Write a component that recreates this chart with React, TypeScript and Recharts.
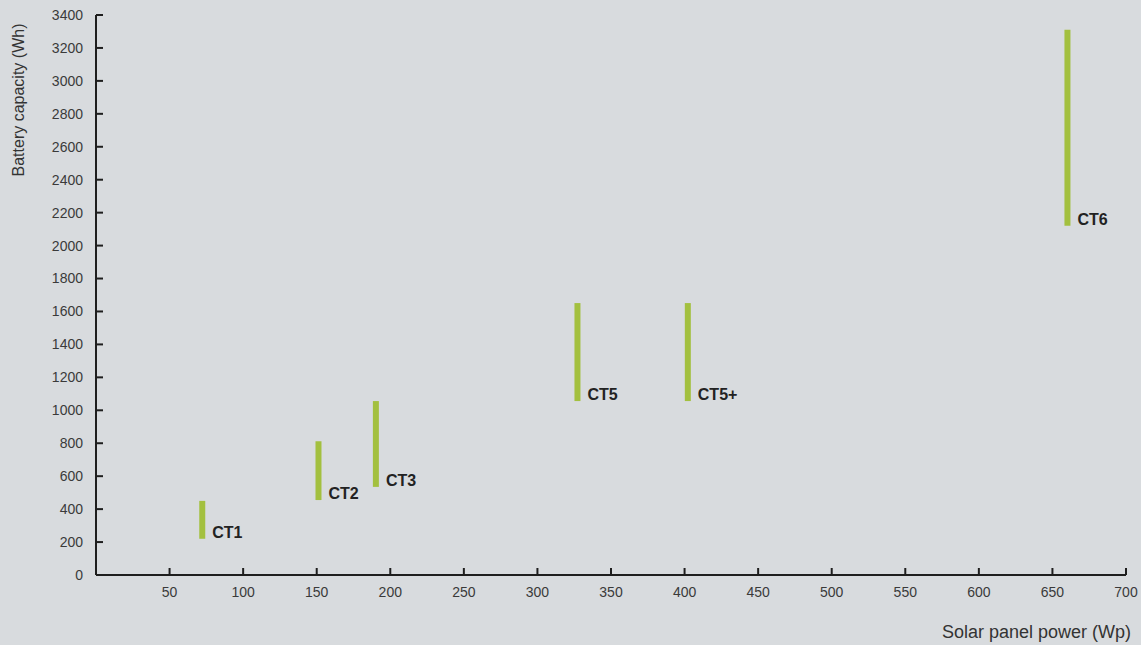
import { ComposedChart, Bar, XAxis, YAxis, LabelList, Label } from 'recharts'

const models = ['CT1', 'CT2', 'CT3', 'CT5', 'CT5+', 'CT6']
const solarPower = [72, 151, 190, 327, 402, 660]
const batteryMin = [220, 455, 535, 1056, 1056, 2120]
const batteryMax = [450, 812, 1056, 1651, 1651, 3310]

const xTicks = [50, 100, 150, 200, 250, 300, 350, 400, 450, 500, 550, 600, 650, 700]
const yTicks = [0, 200, 400, 600, 800, 1000, 1200, 1400, 1600, 1800, 2000, 2200, 2400, 2600, 2800, 3000, 3200, 3400]

const font = '"Liberation Sans", Arial, Helvetica, sans-serif'
const green = '#a3c03f'
const axisColor = '#1e1e1e'

const data = models.map((model, i) => ({
  model,
  power: solarPower[i],
  range: [batteryMin[i], batteryMax[i]],
}))

// model name sits right of the bar, baseline on the bar's bottom
const ModelLabel = (props: any) => {
  const { x, y, width, height, value } = props
  return (
    <text
      x={x + width + 7}
      y={y + height - 1}
      fontSize={16}
      fontWeight="bold"
      fontFamily={font}
      fill="#222"
    >
      {value}
    </text>
  )
}

export default function App() {
  return (
    <div style={{ position: 'absolute', left: 0, top: 0, width: 1141, height: 645, background: '#d8dbde' }}>
      <ComposedChart
        width={1141}
        height={645}
        data={data}
        margin={{ top: 15, right: 15, left: 0, bottom: 0 }}
      >
        <XAxis
          type="number"
          dataKey="power"
          domain={[0, 700]}
          ticks={xTicks}
          height={70}
          tickSize={-7}
          tickMargin={19}
          axisLine={{ stroke: axisColor, strokeWidth: 2 }}
          tickLine={{ stroke: axisColor, strokeWidth: 2 }}
          tick={{ fill: '#3a3a3a', fontSize: 14, fontFamily: font }}
          interval={0}
        >
          <Label
            content={() => (
              <text x={1131} y={638} textAnchor="end" fontSize={18} fontFamily={font} fill="#333">
                Solar panel power (Wp)
              </text>
            )}
          />
        </XAxis>
        <YAxis
          type="number"
          domain={[0, 3400]}
          ticks={yTicks}
          width={96}
          tickSize={-7}
          tickMargin={20}
          axisLine={{ stroke: axisColor, strokeWidth: 2 }}
          tickLine={{ stroke: axisColor, strokeWidth: 2 }}
          tick={{ fill: '#3a3a3a', fontSize: 14, fontFamily: font }}
          interval={0}
        >
          <Label
            content={() => (
              <text
                x={24}
                y={100}
                textAnchor="middle"
                transform="rotate(-90 24 100)"
                fontSize={16}
                fontFamily={font}
                fill="#333"
              >
                Battery capacity (Wh)
              </text>
            )}
          />
        </YAxis>
        <Bar dataKey="range" fill={green} barSize={6} isAnimationActive={false}>
          <LabelList dataKey="model" content={<ModelLabel />} />
        </Bar>
      </ComposedChart>
    </div>
  )
}
